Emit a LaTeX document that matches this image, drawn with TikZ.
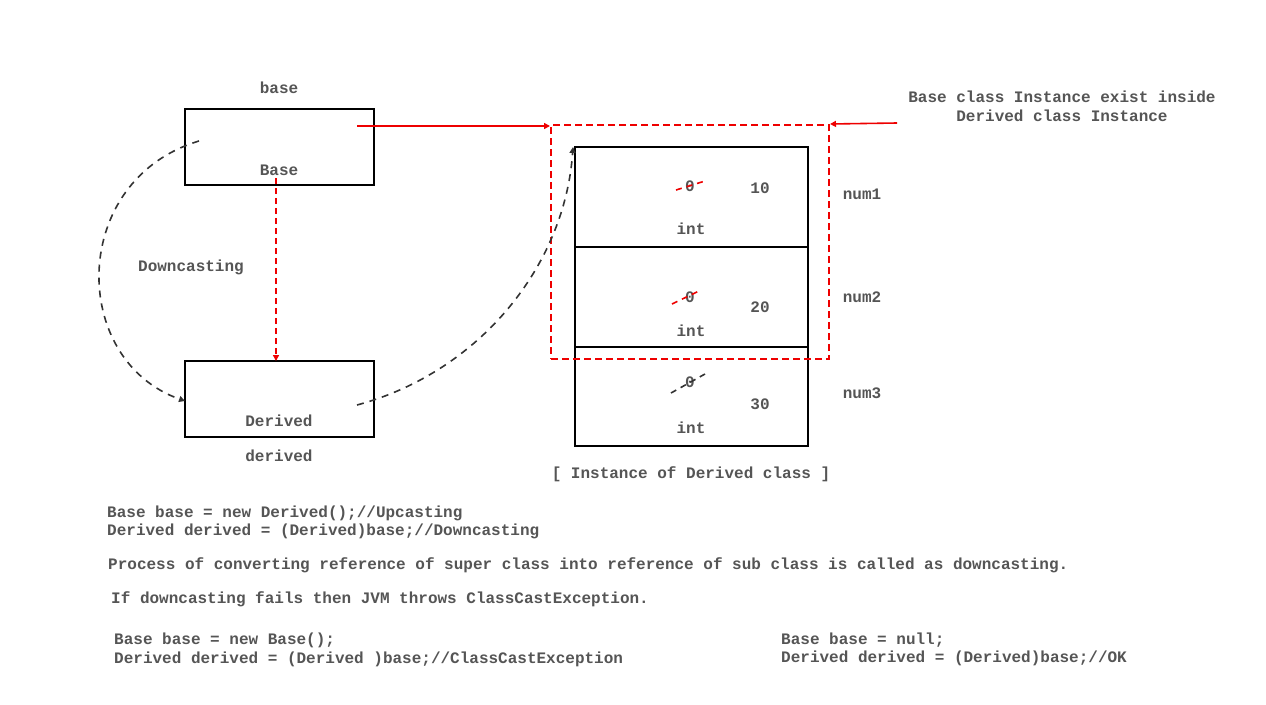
\documentclass[tikz,border=0pt]{standalone}
\usepackage{fontspec}
\setmainfont{Liberation Mono}
\usetikzlibrary{arrows.meta}
\definecolor{txtgray}{HTML}{555555}
\definecolor{refred}{HTML}{EE0000}
\tikzset{
    txt/.style={text=txtgray, font=\bfseries\fontsize{16}{19}\selectfont, inner sep=0pt},
    box/.style={draw=black, line width=2pt, inner sep=0pt, outer sep=0pt},
    tip/.style={-{Triangle[length=6pt,width=6pt]}},
    strike/.style={line width=1.6pt, dash pattern=on 6pt off 5pt},
}
\begin{document}
\begin{tikzpicture}[x=1pt,y=-1pt]
    \useasboundingbox[fill=white] (0,0) rectangle (1266,704);
    % reference boxes
    \node[box, minimum width=189pt, minimum height=76pt] (base) at (279.5,147) {};
    \node[box, minimum width=189pt, minimum height=76pt] (derived) at (279.5,399) {};
    \node[txt] (basename) at (279,88) {base};
    \node[txt] (basetype) at (279,170) {Base};
    \node[txt] (derivedtype) at (279,421) {Derived};
    \node[txt] (derivedname) at (279,456) {derived};
    \node[txt] (downlbl) at (191,267) {Downcasting};
    % object cells
    \foreach \i/\y/\val/\zy/\vy/\ty in {1/197/10/186/188/229,2/297/20/297/307/331,3/396.5/30/382/404/428} {
    \node[box, minimum width=233pt, minimum height=99.5pt] (cell\i) at (691.5,\y) {};
    \node[txt] (zero\i) at (690,\zy) {0};
    \node[txt] (val\i) at (760,\vy) {\val};
    \node[txt] (type\i) at (691,\ty) {int};
    }
    \node[txt] (num1) at (862,194) {num1};
    \node[txt] (num2) at (862,297) {num2};
    \node[txt] (num3) at (862,393) {num3};
    \draw[strike, refred] (676,190) -- (705,181);
    \draw[strike, refred] (672,304) -- (699,291);
    \draw[strike, black!80] (671,393) -- (705,374);
    \node[txt] (instlbl) at (691,474) {[ Instance of Derived class ]};
    % base part of the instance
    \node[draw=refred, line width=2pt, dash pattern=on 7pt off 4pt, minimum width=278pt, minimum height=234pt, inner sep=0pt] (inst) at (690,242) {};
    \node[txt, align=center] (note) at (1062,106) {Base class Instance exist inside\\Derived class Instance};
    % connectors
    \coordinate (ptr) at (357,126);
    \coordinate (cast) at (276,178);
    \coordinate (noteend) at (897,123);
    \coordinate (loopstart) at (199,141);
    \coordinate (loopend) at (185,401);
    \coordinate (refstart) at (357,405);
    \coordinate (refend) at (573,147);
    \draw[tip, refred, line width=1.6pt] (ptr) -- (inst.west |- ptr);
    \draw[tip, refred, line width=1.6pt] (noteend) -- (inst.north east);
    \draw[tip, refred, line width=1.6pt, dash pattern=on 6pt off 4pt] (cast) -- (cast |- derived.north);
    \draw[tip, black!80, line width=1.6pt, dash pattern=on 7pt off 6pt] (loopstart) .. controls (69,180) and (69,360) .. (loopend);
    \draw[tip, black!80, line width=1.6pt, dash pattern=on 7pt off 6pt] (refstart) .. controls (480,372) and (565,265) .. (refend);
    % code lines
    \node[txt, anchor=west] (code1) at (107,513) {Base base = new Derived();//Upcasting};
    \node[txt, anchor=west] (code2) at (107,531) {Derived derived = (Derived)base;//Downcasting};
    \node[txt, anchor=west] (desc) at (108,565) {Process of converting reference of super class into reference of sub class is called as downcasting.};
    \node[txt, anchor=west] (fail) at (111,599) {If downcasting fails then JVM throws ClassCastException.};
    \node[txt, anchor=west] (bad1) at (114,640) {Base base = new Base();};
    \node[txt, anchor=west] (bad2) at (114,659) {Derived derived = (Derived )base;//ClassCastException};
    \node[txt, anchor=west] (ok1) at (781,640) {Base base = null;};
    \node[txt, anchor=west] (ok2) at (781,658) {Derived derived = (Derived)base;//OK};
\end{tikzpicture}
\end{document}
